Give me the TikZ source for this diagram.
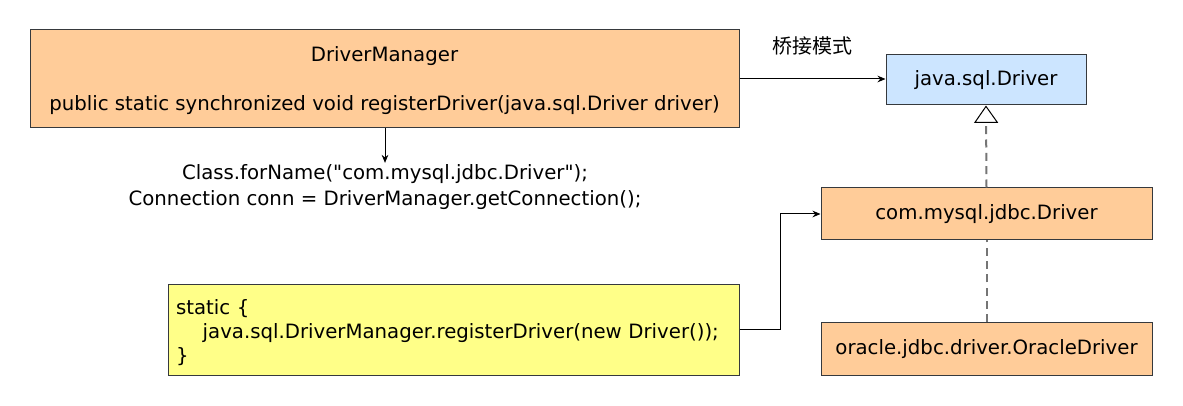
\documentclass[tikz,border=0pt]{standalone}
\usepackage{fontspec}
\setmainfont[Ligatures=TeXOff]{DejaVu Sans}
\newfontfamily\cjk{Noto Sans CJK SC}
\usetikzlibrary{arrows.meta}

\begin{document}
\begin{tikzpicture}[x=0.75pt,y=-0.75pt,
  box/.style={draw=lineDark, line width=0.75pt, inner sep=0pt, font=\fontsize{14.8}{17}\selectfont},
  freccia/.style={draw=black, line width=0.75pt, -{Stealth[length=6pt,width=5pt]}},
  realizza/.style={draw=lineGray, line width=1.5pt, dash pattern=on 6pt off 4pt}]

% Colori
\definecolor{colOrange}{HTML}{FFCC99}
\definecolor{colBlue}{HTML}{CCE5FF}
\definecolor{colYellow}{HTML}{FFFF88}
\definecolor{lineDark}{HTML}{36393D}
\definecolor{lineGray}{HTML}{757575}

\useasboundingbox (0,0) rectangle (1183,406);

% DriverManager
\node[box, fill=colOrange, minimum width=531.75pt, minimum height=73.5pt, align=center] (dm) at (384.5,79)
  {\rule{0pt}{14.3pt}DriverManager\\[19.75pt]public static synchronized void registerDriver(java.sql.Driver driver)};

% Codice sotto
\node[inner sep=1pt, align=center, font=\fontsize{14.8}{19.5}\selectfont] (uso) at (385,187)
  {Class.forName("com.mysql.jdbc.Driver");\\Connection conn = DriverManager.getConnection();};

% Blocco static
\node[box, fill=colYellow, minimum width=428.25pt, minimum height=67.5pt, text width=416.25pt, align=left,
  font=\fontsize{14.8}{18}\selectfont] (stat) at (453.5,330)
  {\rule{0pt}{15pt}static \{\\\hspace*{20pt}java.sql.DriverManager.registerDriver(new Driver());\\\}};

% Driver
\node[box, fill=colBlue, minimum width=150pt, minimum height=37.5pt] (jdrv) at (986,80) {java.sql.Driver};
\node[box, fill=colOrange, minimum width=248.25pt, minimum height=39pt] (mysql) at (986.5,214) {com.mysql.jdbc.Driver};
\node[box, fill=colOrange, minimum width=248.25pt, minimum height=39pt] (oracle) at (986.5,349) {oracle.jdbc.driver.OracleDriver};

% Etichetta
\node[font=\cjk\fontsize{15}{17}\selectfont] (ponte) at (812,46) {桥接模式};

% Collegamenti
\draw[freccia] (dm.south -| uso.north) -- (uso.north);
\draw[freccia] (dm.east) -- (dm.east -| jdrv.west);
\draw[freccia] (stat.east) -- ++(41,0) |- (mysql.west);
\draw[realizza] (oracle.north) -- (mysql.south);
\draw[realizza, -{Triangle[open, length=13pt, width=18pt, color=black, fill=white, line width=0.75pt]}] (mysql.north) -- (jdrv.south);

\end{tikzpicture}
\end{document}
